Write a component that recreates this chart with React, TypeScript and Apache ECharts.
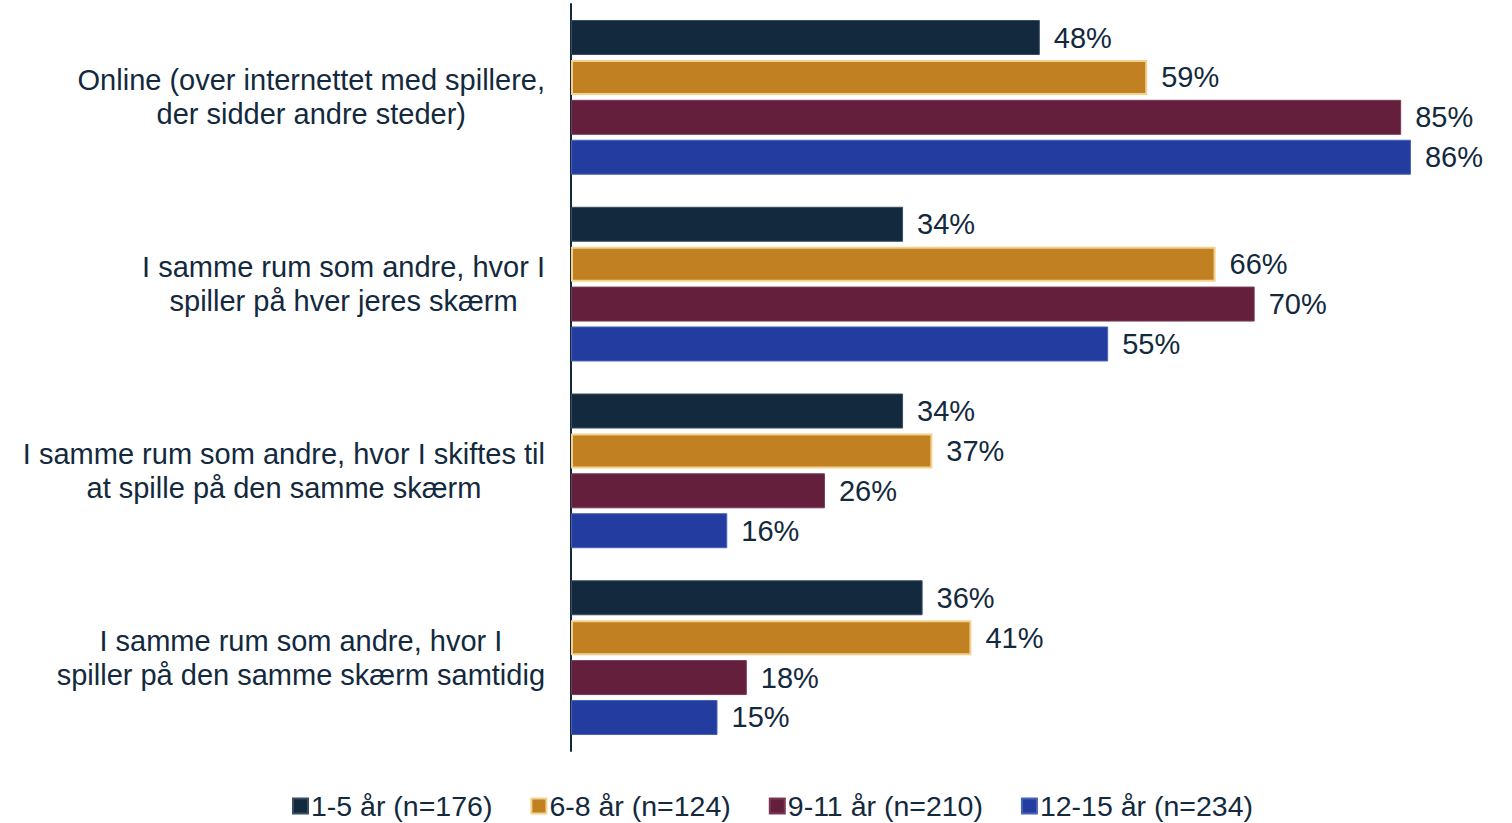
import React, { useEffect, useRef } from "react";
import * as echarts from "echarts";

const categories = [
  "Online (over internettet med spillere,\nder sidder andre steder)",
  "I samme rum som andre, hvor I\nspiller på hver jeres skærm",
  "I samme rum som andre, hvor I skiftes til\nat spille på den samme skærm",
  "I samme rum som andre, hvor I\nspiller på den samme skærm samtidig",
];
const seriesNames = ["1-5 år (n=176)", "6-8 år (n=124)", "9-11 år (n=210)", "12-15 år (n=234)"];
const values1to5 = [48, 34, 34, 36];
const values6to8 = [59, 66, 37, 41];
const values9to11 = [85, 70, 26, 18];
const values12to15 = [86, 55, 16, 15];

const colors = ["#13293d", "#c18022", "#631f3c", "#223d9f"];
const borders = ["#3a4d60", "#f3d28e", "#7a3a55", "#4a62b5"];
const textColor = "#13293d";
const font = "'Liberation Sans', Arial, sans-serif";

export default function App() {
  const ref = useRef<HTMLDivElement>(null);
  useEffect(() => {
    if (!ref.current) return;
    const chart = echarts.init(ref.current, undefined, { renderer: "svg" });
    const data = [values1to5, values6to8, values9to11, values12to15];
    chart.setOption({
      animation: false,
      textStyle: { fontFamily: font },
      grid: { left: 571, top: 4, width: 879, height: 747 },
      xAxis: {
        type: "value",
        min: 0,
        max: 90,
        show: false,
      },
      yAxis: {
        type: "category",
        data: categories,
        inverse: true,
        axisLine: { show: true, lineStyle: { color: textColor, width: 2 } },
        axisTick: { show: false },
        axisLabel: {
          margin: 26,
          fontSize: 29,
          color: textColor,
          fontFamily: font,
          lineHeight: 34,
          formatter: (v: string) =>
            v
              .split("\n")
              .map((l) => `{c|${l}}`)
              .join("\n"),
          rich: {
            c: { align: "center", fontSize: 29, lineHeight: 34, color: textColor, fontFamily: font },
          },
        },
      },
      legend: {
        left: 287,
        top: 786,
        icon: "rect",
        itemWidth: 15,
        itemHeight: 15,
        itemGap: 38,
        textStyle: { fontSize: 28.5, lineHeight: 30, color: textColor, fontFamily: font, padding: [0, 0, 0, -2] },
        data: seriesNames,
      },
      series: data.map((vals, i) => ({
        name: seriesNames[i],
        type: "bar",
        data: vals,
        barWidth: 35,
        barGap: "14%",
        itemStyle: { color: colors[i], borderColor: borders[i], borderWidth: i === 1 ? 2 : 1 },
        label: {
          show: true,
          position: "right",
          distance: 14,
          formatter: "{c}%",
          fontSize: 29,
          color: textColor,
          fontFamily: font,
        },
      })),
    });
    return () => chart.dispose();
  }, []);
  return (
    <div
      ref={ref}
      style={{ position: "absolute", left: 0, top: 0, width: 1512, height: 823, background: "#fff" }}
    />
  );
}
